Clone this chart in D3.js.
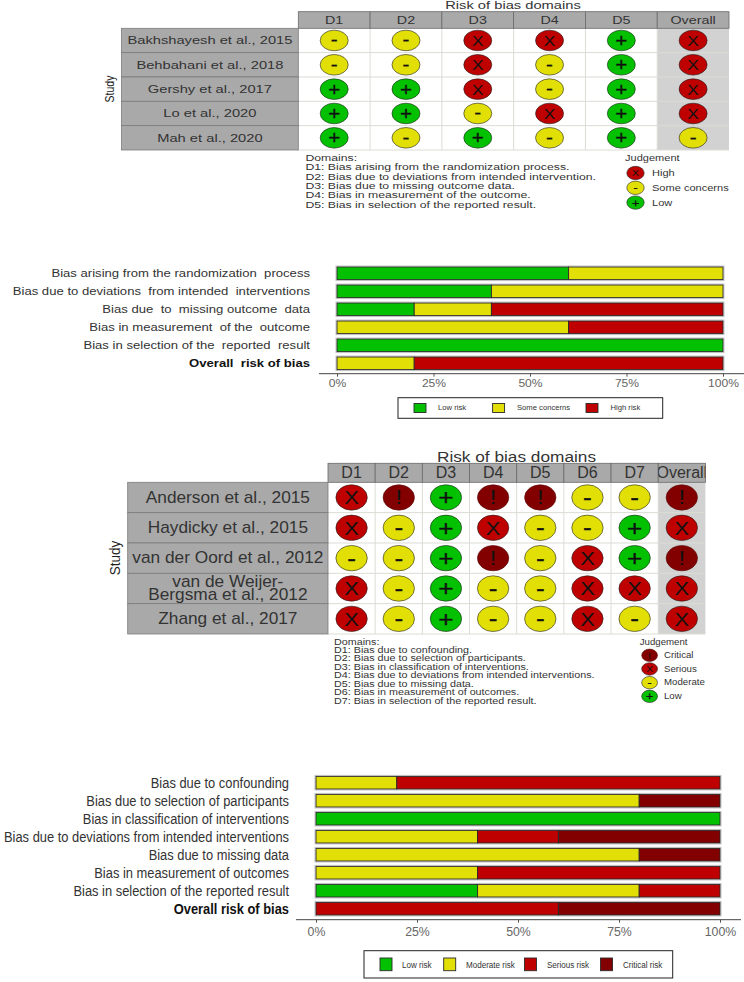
<!DOCTYPE html>
<html><head><meta charset="utf-8">
<script src="https://cdn.jsdelivr.net/npm/d3@7"></script>
<style>html,body{margin:0;padding:0;background:#fff}svg{display:block}text{font-family:"Liberation Sans",Arial,sans-serif}</style>
</head><body><svg id="c" width="744" height="982"></svg>
<script>
// ---------- data ----------
const studies1 = ["Bakhshayesh et al., 2015","Behbahani et al., 2018","Gershy et al., 2017","Lo et al., 2020","Mah et al., 2020"];
const domains1 = ["D1","D2","D3","D4","D5","Overall"];
const judgements1 = [
  ["S","S","H","H","L","H"],
  ["S","S","H","S","L","H"],
  ["L","L","H","S","L","H"],
  ["L","L","S","H","L","H"],
  ["L","S","L","S","L","S"]];
const domainNotes1 = ["Domains:","D1: Bias arising from the randomization process.","D2: Bias due to deviations from intended intervention.","D3: Bias due to missing outcome data.","D4: Bias in measurement of the outcome.","D5: Bias in selection of the reported result."];
const legend1 = [["H","High"],["S","Some concerns"],["L","Low"]];

const summaryLabels1 = ["Bias arising from the randomization  process","Bias due to deviations  from intended  interventions","Bias due  to  missing outcome  data","Bias in measurement  of the  outcome","Bias in selection of the  reported  result","Overall  risk of bias"];
const lowRisk1 = [60,40,20,0,100,0];
const someConcerns1 = [40,60,20,60,0,20];
const highRisk1 = [0,0,60,40,0,80];

const studies2 = ["Anderson et al., 2015","Haydicky et al., 2015","van der Oord et al., 2012",["van de Weijer-","Bergsma et al., 2012"],"Zhang et al., 2017"];
const domains2 = ["D1","D2","D3","D4","D5","D6","D7","Overall"];
const judgements2 = [
  ["H","C","L","C","C","S","S","C"],
  ["H","S","L","H","S","S","L","H"],
  ["S","S","L","C","S","H","L","C"],
  ["H","S","L","S","S","H","H","H"],
  ["H","S","L","S","S","H","S","H"]];
const domainNotes2 = ["Domains:","D1: Bias due to confounding.","D2: Bias due to selection of participants.","D3: Bias in classification of interventions.","D4: Bias due to deviations from intended interventions.","D5: Bias due to missing data.","D6: Bias in measurement of outcomes.","D7: Bias in selection of the reported result."];
const legend2 = [["C","Critical"],["H","Serious"],["S","Moderate"],["L","Low"]];

const summaryLabels2 = ["Bias due to confounding","Bias due to selection of participants","Bias in classification of interventions","Bias due to deviations from intended interventions","Bias due to missing data","Bias in measurement of outcomes","Bias in selection of the reported result","Overall risk of bias"];
const lowRisk2 = [0,0,100,0,0,0,40,0];
const moderateRisk2 = [20,80,0,40,80,40,40,0];
const seriousRisk2 = [80,0,0,20,0,60,20,60];
const criticalRisk2 = [0,20,0,40,20,0,0,40];

const tickValues = [0,25,50,75,100];
// ---------- style ----------
const GREEN="#03C100",YELLOW="#E2DF07",RED="#BF0000",DARK="#820000";
const fillOf={L:GREEN,S:YELLOW,H:RED,C:DARK};
const glyphOf={L:"+",S:"-",H:"X",C:"!"};
const glyphScale={L:1.2,S:1.2,H:1,C:1.1};
const svg=d3.select("#c");
let clipId=0;

function txt(g,x,y,s,size,sx,anchor,opt={}){
  return g.append("text").attr("transform",`translate(${x},${y}) scale(${sx},1)`)
    .attr("text-anchor",anchor||"start").attr("dominant-baseline","central")
    .attr("font-size",size).attr("fill",opt.fill||"#333").attr("font-weight",opt.bold?"bold":"normal")
    .attr("xml:space","preserve").style("white-space","pre").text(s);
}
function light(g,cx,cy,rx,ry,j,size,sx){
  g.append("ellipse").attr("cx",cx).attr("cy",cy).attr("rx",rx).attr("ry",ry)
    .attr("fill",fillOf[j]).attr("stroke",j==="C"?"#5a1010":"#222").attr("stroke-width",0.6);
  txt(g,cx,cy+(j==="S"?-0.5:0),glyphOf[j],size*glyphScale[j],sx,"middle",{fill:"#111"}).attr("stroke","#111").attr("stroke-width",j==="L"||j==="S"?0.3:0);
}
function traffic(o){
  const g=svg.append("g");
  const x=d3.scaleBand().domain(o.domains).range([o.x0,o.x1]);
  const y=d3.scaleBand().domain(o.studies.map((_,i)=>i)).range([o.y1,o.y2]);
  g.append("rect").attr("x",x("Overall")).attr("y",o.y1).attr("width",x.bandwidth()).attr("height",o.y2-o.y1).attr("fill","#D2D2D2");
  g.selectAll("line.v").data(o.domains.slice(1)).join("line").attr("x1",d=>x(d)).attr("x2",d=>x(d)).attr("y1",o.y1).attr("y2",o.y2).attr("stroke","#dcdcd6").attr("stroke-width",1);
  g.selectAll("line.h").data(o.studies.map((_,i)=>i)).join("line").attr("x1",o.x0).attr("x2",o.x1).attr("y1",d=>y(d)+y.bandwidth()).attr("y2",d=>y(d)+y.bandwidth()).attr("stroke","#dcdcd6").attr("stroke-width",1);
  o.domains.forEach(d=>{
    g.append("rect").attr("x",x(d)).attr("y",o.y0).attr("width",x.bandwidth()).attr("height",o.y1-o.y0).attr("fill","#A9A9A9").attr("stroke","#6a6a6a").attr("stroke-width",0.8);
    const id="clip"+(clipId++);
    g.append("clipPath").attr("id",id).append("rect").attr("x",x(d)).attr("y",o.y0).attr("width",x.bandwidth()).attr("height",o.y1-o.y0);
    const tg=g.append("g").attr("clip-path",`url(#${id})`);
    txt(tg,x(d)+x.bandwidth()/2,(o.y0+o.y1)/2,d,o.headSize,o.headSx,"middle");
  });
  o.studies.forEach((s,i)=>{
    g.append("rect").attr("x",o.xs).attr("y",y(i)).attr("width",o.x0-o.xs).attr("height",y.bandwidth()).attr("fill","#A9A9A9").attr("stroke","#7c7c7c").attr("stroke-width",0.8);
    const cx=(o.xs+o.x0)/2,cy=y(i)+y.bandwidth()/2;
    if(Array.isArray(s)){s.forEach((l,k)=>txt(g,cx,cy+(k-.5)*o.lineH,l,o.studySize,o.studySx,"middle"));}
    else txt(g,cx,cy,s,o.studySize,o.studySx,"middle");
  });
  o.matrix.forEach((row,i)=>row.forEach((j,k)=>light(g,x(o.domains[k])+x.bandwidth()/2,y(i)+y.bandwidth()/2,o.rx,o.ry,j,o.glyph,o.glyphSx)));
  txt(g,o.titleX,o.titleY,"Risk of bias domains",o.titleSize,o.titleSx,"middle");
  g.append("text").attr("transform",`translate(${o.studyX},${o.studyY}) rotate(-90) scale(1,${o.studyLabSx})`).attr("text-anchor","middle").attr("dominant-baseline","central").attr("font-size",o.studyLabSize).attr("fill","#222").text("Study");
  o.notes.forEach((t,i)=>txt(g,o.noteX,o.noteY+i*o.noteStep,t,o.noteSize,o.noteSx,"start"));
  txt(g,o.jX,o.jY,"Judgement",o.jSize,o.jSx,"start");
  o.legend.forEach(([j,l],i)=>{
    light(g,o.lcX,o.lcY+i*o.lcStep,o.lrx,o.lry,j,o.lGlyph,o.glyphSx);
    txt(g,o.lcLab,o.lcY+i*o.lcStep,l,o.jSize,o.jSx,"start");
  });
}
function summary(o){
  const g=svg.append("g");
  const x=d3.scaleLinear().domain([0,100]).range([o.x0,o.x1]);
  const y=d3.scaleBand().domain(o.labels.map((_,i)=>i)).range([o.y0,o.y1]).paddingInner(0.3).paddingOuter(0.15);
  o.labels.forEach((l,i)=>{
    let acc=0;
    g.append("rect").attr("x",x(0)-1).attr("y",y(i)-1).attr("width",x(100)-x(0)+2).attr("height",y.bandwidth()+2).attr("fill","none").attr("stroke","#c4c4c4").attr("stroke-width",1);
    o.series.forEach(s=>{
      const v=s.values[i]; if(!v) return;
      g.append("rect").attr("x",x(acc)).attr("y",y(i)).attr("width",x(acc+v)-x(acc)).attr("height",y.bandwidth()).attr("fill",s.color).attr("stroke","#2a2a2a").attr("stroke-width",0.9);
      acc+=v;
    });
    const last=i===o.labels.length-1;
    txt(g,o.labX,y(i)+y.bandwidth()/2,l,o.labSize,o.labSx,"end",{bold:last,fill:last?"#111":"#333"});
  });
  const ax=g.append("g").attr("transform",`translate(0,${o.axisY})`)
    .call(d3.axisBottom(x).tickValues(tickValues).tickFormat(d=>d+"%").tickSize(3).tickPadding(o.tickPad));
  ax.select(".domain").remove();
  ax.selectAll(".tick line").attr("stroke","#555");
  ax.selectAll(".tick text").attr("font-size",o.tickSize).attr("fill","#666").attr("font-family","Liberation Sans")
    .attr("transform",`scale(${o.tickSx},1)`);
  g.append("line").attr("x1",o.axX0).attr("x2",o.axX1).attr("y1",o.axisY).attr("y2",o.axisY).attr("stroke","#444").attr("stroke-width",1);
  g.append("rect").attr("x",o.box[0]).attr("y",o.box[1]).attr("width",o.box[2]-o.box[0]).attr("height",o.box[3]-o.box[1]).attr("fill","#fff").attr("stroke","#222").attr("stroke-width",1);
  const cy=(o.box[1]+o.box[3])/2;
  o.keys.forEach(k=>{
    g.append("rect").attr("x",k.x).attr("y",cy-o.keyH/2).attr("width",o.keyW).attr("height",o.keyH).attr("fill",k.color).attr("stroke","#2a2a2a").attr("stroke-width",0.9);
    txt(g,k.lx,cy,k.label,o.keyText,o.keySx,"start",{fill:"#333"});
  });
}
traffic({x0:298.3,x1:729,xs:121.5,y0:11.7,y1:28.3,y2:150,domains:domains1,studies:studies1,matrix:judgements1,
  rx:14,ry:10.3,glyph:15,glyphSx:1.15,headSize:11,headSx:1.3,studySize:10.5,studySx:1.4,lineH:12,
  titleX:513,titleY:5.5,titleSize:10.5,titleSx:1.4,studyX:110,studyY:89,studyLabSize:10.5,studyLabSx:1.2,
  notes:domainNotes1,noteX:305.4,noteY:157.7,noteStep:9.27,noteSize:9.5,noteSx:1.29,
  jX:625,jY:158,jSize:8.5,jSx:1.3,legend:legend1,lcX:635.5,lcY:173,lcStep:14.8,lrx:8.7,lry:6.7,lGlyph:9,lcLab:652});
summary({x0:337,x1:723,y0:264.3,y1:372.3,labels:summaryLabels1,series:[{values:lowRisk1,color:GREEN},{values:someConcerns1,color:YELLOW},{values:highRisk1,color:RED}],
  labX:310,labSize:11.5,labSx:1.14,axisY:373.7,axX0:319,axX1:744,tickSize:11,tickSx:1.1,tickPad:2.5,
  box:[398,397.7,662.7,418.3],keyH:9,keyW:12,keyText:6.5,keySx:1.18,
  keys:[{x:414,lx:438,color:GREEN,label:"Low risk"},{x:492.6,lx:517,color:YELLOW,label:"Some concerns"},{x:586,lx:610.5,color:RED,label:"High risk"}]});
traffic({x0:328,x1:705.4,xs:127.7,y0:463.3,y1:482.3,y2:634,domains:domains2,studies:studies2,matrix:judgements2,
  rx:15.7,ry:12.7,glyph:19,glyphSx:1.15,headSize:16,headSx:1.0,studySize:16,studySx:1.08,lineH:13.3,
  titleX:516.5,titleY:456,titleSize:15,titleSx:1.15,studyX:115,studyY:558,studyLabSize:13.5,studyLabSx:1.05,
  notes:domainNotes2,noteX:334,noteY:641.3,noteStep:8.45,noteSize:9.2,noteSx:1.17,
  jX:639.7,jY:642,jSize:8.2,jSx:1.18,legend:legend2,lcX:649.6,lcY:655.3,lcStep:13.67,lrx:7.9,lry:6.2,lGlyph:9,lcLab:664});
summary({x0:316,x1:720,y0:773.7,y1:917.7,labels:summaryLabels2,series:[{values:lowRisk2,color:GREEN},{values:moderateRisk2,color:YELLOW},{values:seriousRisk2,color:RED},{values:criticalRisk2,color:DARK}],
  labX:289,labSize:15,labSx:0.86,axisY:919.7,axX0:296,axX1:741,tickSize:13,tickSx:0.95,tickPad:4,
  box:[364,950.7,672.7,978],keyH:12.7,keyW:12,keyText:9.5,keySx:0.85,
  keys:[{x:380,lx:402,color:GREEN,label:"Low risk"},{x:443.7,lx:466,color:YELLOW,label:"Moderate risk"},{x:524.5,lx:547,color:RED,label:"Serious risk"},{x:600.5,lx:623,color:DARK,label:"Critical risk"}]});
</script></body></html>
